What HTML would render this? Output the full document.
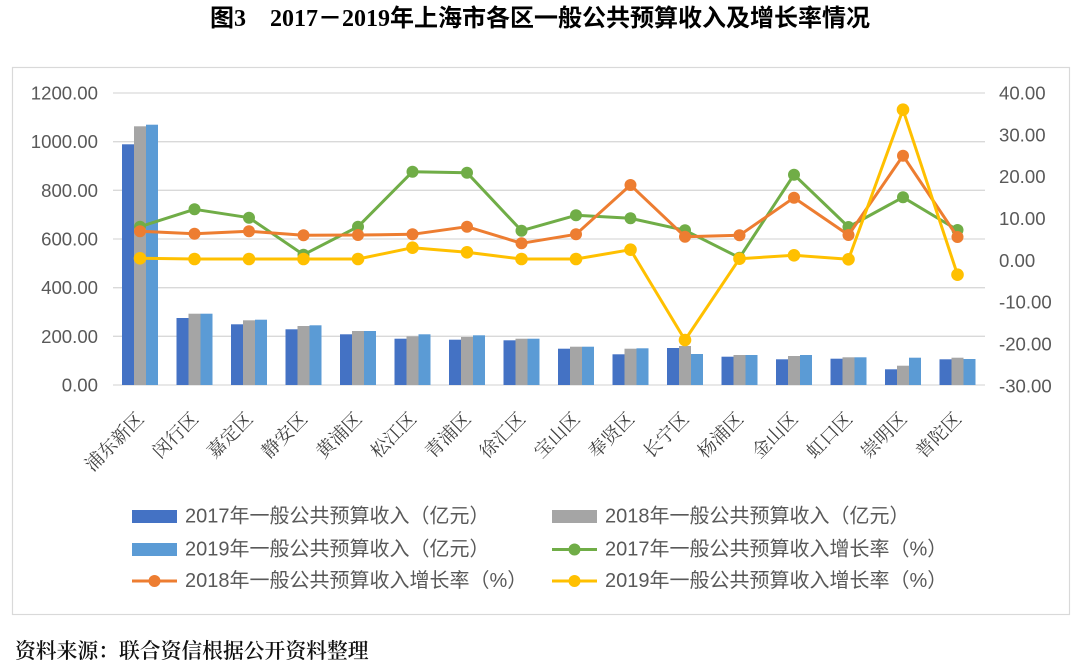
<!DOCTYPE html>
<html>
<head>
<meta charset="utf-8">
<style>
  html,body{margin:0;padding:0;background:#fff;}
  svg{display:block;}
  .ax{font-family:"Liberation Sans","Noto Sans CJK SC",sans-serif;font-size:18.6px;fill:#595959;}
  .lg{font-family:"Liberation Sans","Noto Sans CJK SC",sans-serif;font-size:20px;fill:#595959;}
  .xl{font-family:"Liberation Serif","Noto Serif CJK SC",serif;font-size:18.5px;fill:#404040;}
  .tt{font-family:"Liberation Serif","Noto Sans CJK SC",sans-serif;font-size:24px;font-weight:bold;fill:#000;}
  .ft{font-family:"Liberation Serif","Noto Serif CJK SC",serif;font-size:20.8px;fill:#111;font-weight:600;}
</style>
</head>
<body>
<svg width="1080" height="667" viewBox="0 0 1080 667" xmlns="http://www.w3.org/2000/svg">
  <rect x="0" y="0" width="1080" height="667" fill="#fff"/>
  <text class="tt" x="540" y="26" text-anchor="middle">图3　2017－2019年上海市各区一般公共预算收入及增长率情况</text>

  <rect x="12.5" y="67.5" width="1057" height="547" fill="#fff" stroke="#D9D9D9" stroke-width="1.2"/>

  <!-- gridlines -->
  <g stroke="#D9D9D9" stroke-width="1.3">
    <line x1="113" y1="93" x2="985" y2="93"/>
    <line x1="113" y1="141.7" x2="985" y2="141.7"/>
    <line x1="113" y1="190.3" x2="985" y2="190.3"/>
    <line x1="113" y1="239" x2="985" y2="239"/>
    <line x1="113" y1="287.7" x2="985" y2="287.7"/>
    <line x1="113" y1="336.3" x2="985" y2="336.3"/>
    <line x1="113" y1="385" x2="985" y2="385"/>
  </g>

  <!-- left axis labels -->
  <g class="ax" text-anchor="end" dominant-baseline="central">
    <text x="98" y="93">1200.00</text>
    <text x="98" y="141.7">1000.00</text>
    <text x="98" y="190.3">800.00</text>
    <text x="98" y="239">600.00</text>
    <text x="98" y="287.7">400.00</text>
    <text x="98" y="336.3">200.00</text>
    <text x="98" y="385">0.00</text>
  </g>

  <!-- right axis labels -->
  <g class="ax" text-anchor="start" dominant-baseline="central">
    <text x="999" y="93">40.00</text>
    <text x="999" y="134.8">30.00</text>
    <text x="999" y="176.7">20.00</text>
    <text x="999" y="218.5">10.00</text>
    <text x="999" y="260.3">0.00</text>
    <text x="999" y="302.2">-10.00</text>
    <text x="999" y="344">-20.00</text>
    <text x="999" y="385.8">-30.00</text>
  </g>

  <!-- legend -->
  <g>
    <rect x="132" y="510" width="45" height="13" fill="#4472C4"/>
    <text class="lg" x="185" y="516.5" dominant-baseline="central">2017年一般公共预算收入（亿元）</text>
    <rect x="552" y="510" width="45" height="13" fill="#A5A5A5"/>
    <text class="lg" x="605" y="516.5" dominant-baseline="central">2018年一般公共预算收入（亿元）</text>

    <rect x="132" y="543" width="45" height="13" fill="#5B9BD5"/>
    <text class="lg" x="185" y="549.5" dominant-baseline="central">2019年一般公共预算收入（亿元）</text>
    <line x1="552" y1="549.5" x2="597" y2="549.5" stroke="#70AD47" stroke-width="3"/>
    <circle cx="574.5" cy="549.5" r="6" fill="#70AD47"/>
    <text class="lg" x="605" y="549.5" dominant-baseline="central">2017年一般公共预算收入增长率（%）</text>

    <line x1="132" y1="581" x2="177" y2="581" stroke="#ED7D31" stroke-width="3"/>
    <circle cx="154.5" cy="581" r="6" fill="#ED7D31"/>
    <text class="lg" x="185" y="581" dominant-baseline="central">2018年一般公共预算收入增长率（%）</text>
    <line x1="552" y1="581" x2="597" y2="581" stroke="#FFC000" stroke-width="3"/>
    <circle cx="574.5" cy="581" r="6" fill="#FFC000"/>
    <text class="lg" x="605" y="581" dominant-baseline="central">2019年一般公共预算收入增长率（%）</text>
  </g>

  <text class="ft" x="15" y="658">资料来源：联合资信根据公开资料整理</text>

  <!-- bars -->
  <g>
    <rect x="122" y="144.3" width="12" height="240.7" fill="#4472C4"/>
    <rect x="134" y="126.3" width="12" height="258.7" fill="#A5A5A5"/>
    <rect x="146" y="124.7" width="12" height="260.3" fill="#5B9BD5"/>

    <rect x="176.5" y="318" width="12" height="67" fill="#4472C4"/>
    <rect x="188.5" y="313.7" width="12" height="71.3" fill="#A5A5A5"/>
    <rect x="200.5" y="313.7" width="12" height="71.3" fill="#5B9BD5"/>

    <rect x="231" y="324.3" width="12" height="60.7" fill="#4472C4"/>
    <rect x="243" y="320.3" width="12" height="64.7" fill="#A5A5A5"/>
    <rect x="255" y="319.7" width="12" height="65.3" fill="#5B9BD5"/>

    <rect x="285.5" y="329.3" width="12" height="55.7" fill="#4472C4"/>
    <rect x="297.5" y="326" width="12" height="59" fill="#A5A5A5"/>
    <rect x="309.5" y="325.3" width="12" height="59.7" fill="#5B9BD5"/>

    <rect x="340" y="334.3" width="12" height="50.7" fill="#4472C4"/>
    <rect x="352" y="331" width="12" height="54" fill="#A5A5A5"/>
    <rect x="364" y="331" width="12" height="54" fill="#5B9BD5"/>

    <rect x="394.5" y="338.7" width="12" height="46.3" fill="#4472C4"/>
    <rect x="406.5" y="336.3" width="12" height="48.7" fill="#A5A5A5"/>
    <rect x="418.5" y="334.3" width="12" height="50.7" fill="#5B9BD5"/>

    <rect x="449" y="339.7" width="12" height="45.3" fill="#4472C4"/>
    <rect x="461" y="337" width="12" height="48" fill="#A5A5A5"/>
    <rect x="473" y="335.3" width="12" height="49.7" fill="#5B9BD5"/>

    <rect x="503.5" y="340.3" width="12" height="44.7" fill="#4472C4"/>
    <rect x="515.5" y="338.7" width="12" height="46.3" fill="#A5A5A5"/>
    <rect x="527.5" y="338.7" width="12" height="46.3" fill="#5B9BD5"/>

    <rect x="558" y="348.7" width="12" height="36.3" fill="#4472C4"/>
    <rect x="570" y="346.7" width="12" height="38.3" fill="#A5A5A5"/>
    <rect x="582" y="346.7" width="12" height="38.3" fill="#5B9BD5"/>

    <rect x="612.5" y="354.3" width="12" height="30.7" fill="#4472C4"/>
    <rect x="624.5" y="348.7" width="12" height="36.3" fill="#A5A5A5"/>
    <rect x="636.5" y="348.3" width="12" height="36.7" fill="#5B9BD5"/>

    <rect x="667" y="348" width="12" height="37" fill="#4472C4"/>
    <rect x="679" y="346" width="12" height="39" fill="#A5A5A5"/>
    <rect x="691" y="354" width="12" height="31" fill="#5B9BD5"/>

    <rect x="721.5" y="356.7" width="12" height="28.3" fill="#4472C4"/>
    <rect x="733.5" y="355" width="12" height="30" fill="#A5A5A5"/>
    <rect x="745.5" y="355" width="12" height="30" fill="#5B9BD5"/>

    <rect x="776" y="359.3" width="12" height="25.7" fill="#4472C4"/>
    <rect x="788" y="356" width="12" height="29" fill="#A5A5A5"/>
    <rect x="800" y="355" width="12" height="30" fill="#5B9BD5"/>

    <rect x="830.5" y="358.7" width="12" height="26.3" fill="#4472C4"/>
    <rect x="842.5" y="357.3" width="12" height="27.7" fill="#A5A5A5"/>
    <rect x="854.5" y="357.3" width="12" height="27.7" fill="#5B9BD5"/>

    <rect x="885" y="369.3" width="12" height="15.7" fill="#4472C4"/>
    <rect x="897" y="365.7" width="12" height="19.3" fill="#A5A5A5"/>
    <rect x="909" y="357.7" width="12" height="27.3" fill="#5B9BD5"/>

    <rect x="939.5" y="359.3" width="12" height="25.7" fill="#4472C4"/>
    <rect x="951.5" y="357.7" width="12" height="27.3" fill="#A5A5A5"/>
    <rect x="963.5" y="359" width="12" height="26" fill="#5B9BD5"/>
  </g>

  <!-- lines -->
  <g fill="none" stroke-width="3" stroke-linejoin="round">
    <polyline stroke="#70AD47" points="140,226.7 194.5,209.3 249,217.7 303.5,254.7 358,226.7 412.5,171.7 467,172.7 521.5,230.7 576,215.3 630.5,218.3 685,230.3 739.5,257.7 794,174.7 848.5,227 903,197.3 957.5,230"/>
  </g>
  <g fill="#70AD47">
    <circle cx="140" cy="226.7" r="6"/><circle cx="194.5" cy="209.3" r="6"/><circle cx="249" cy="217.7" r="6"/><circle cx="303.5" cy="254.7" r="6"/>
    <circle cx="358" cy="226.7" r="6"/><circle cx="412.5" cy="171.7" r="6"/><circle cx="467" cy="172.7" r="6"/><circle cx="521.5" cy="230.7" r="6"/>
    <circle cx="576" cy="215.3" r="6"/><circle cx="630.5" cy="218.3" r="6"/><circle cx="685" cy="230.3" r="6"/><circle cx="739.5" cy="257.7" r="6"/>
    <circle cx="794" cy="174.7" r="6"/><circle cx="848.5" cy="227" r="6"/><circle cx="903" cy="197.3" r="6"/><circle cx="957.5" cy="230" r="6"/>
  </g>
  <g fill="none" stroke-width="3" stroke-linejoin="round">
    <polyline stroke="#ED7D31" points="140,231.3 194.5,233.7 249,231.3 303.5,235.3 358,235 412.5,234.3 467,226.7 521.5,243.3 576,234.3 630.5,185 685,236.7 739.5,235.3 794,197.7 848.5,235 903,155.7 957.5,237"/>
  </g>
  <g fill="#ED7D31">
    <circle cx="140" cy="231.3" r="6"/><circle cx="194.5" cy="233.7" r="6"/><circle cx="249" cy="231.3" r="6"/><circle cx="303.5" cy="235.3" r="6"/>
    <circle cx="358" cy="235" r="6"/><circle cx="412.5" cy="234.3" r="6"/><circle cx="467" cy="226.7" r="6"/><circle cx="521.5" cy="243.3" r="6"/>
    <circle cx="576" cy="234.3" r="6"/><circle cx="630.5" cy="185" r="6"/><circle cx="685" cy="236.7" r="6"/><circle cx="739.5" cy="235.3" r="6"/>
    <circle cx="794" cy="197.7" r="6"/><circle cx="848.5" cy="235" r="6"/><circle cx="903" cy="155.7" r="6"/><circle cx="957.5" cy="237" r="6"/>
  </g>
  <g fill="none" stroke-width="3" stroke-linejoin="round">
    <polyline stroke="#FFC000" points="140,258.3 194.5,259 249,259 303.5,259 358,259 412.5,247.7 467,252.3 521.5,259 576,259 630.5,249.7 685,340 739.5,258.7 794,255.3 848.5,259.3 903,109.7 957.5,274.7"/>
  </g>
  <g fill="#FFC000">
    <circle cx="140" cy="258.3" r="6.3"/><circle cx="194.5" cy="259" r="6.3"/><circle cx="249" cy="259" r="6.3"/><circle cx="303.5" cy="259" r="6.3"/>
    <circle cx="358" cy="259" r="6.3"/><circle cx="412.5" cy="247.7" r="6.3"/><circle cx="467" cy="252.3" r="6.3"/><circle cx="521.5" cy="259" r="6.3"/>
    <circle cx="576" cy="259" r="6.3"/><circle cx="630.5" cy="249.7" r="6.3"/><circle cx="685" cy="340" r="6.3"/><circle cx="739.5" cy="258.7" r="6.3"/>
    <circle cx="794" cy="255.3" r="6.3"/><circle cx="848.5" cy="259.3" r="6.3"/><circle cx="903" cy="109.7" r="6.3"/><circle cx="957.5" cy="274.7" r="6.3"/>
  </g>

  <!-- x labels -->
  <g class="xl" text-anchor="end">
    <text transform="translate(145,420) rotate(-45)">浦东新区</text>
    <text transform="translate(199.5,420) rotate(-45)">闵行区</text>
    <text transform="translate(254,420) rotate(-45)">嘉定区</text>
    <text transform="translate(308.5,420) rotate(-45)">静安区</text>
    <text transform="translate(363,420) rotate(-45)">黄浦区</text>
    <text transform="translate(417.5,420) rotate(-45)">松江区</text>
    <text transform="translate(472,420) rotate(-45)">青浦区</text>
    <text transform="translate(526.5,420) rotate(-45)">徐汇区</text>
    <text transform="translate(581,420) rotate(-45)">宝山区</text>
    <text transform="translate(635.5,420) rotate(-45)">奉贤区</text>
    <text transform="translate(690,420) rotate(-45)">长宁区</text>
    <text transform="translate(744.5,420) rotate(-45)">杨浦区</text>
    <text transform="translate(799,420) rotate(-45)">金山区</text>
    <text transform="translate(853.5,420) rotate(-45)">虹口区</text>
    <text transform="translate(908,420) rotate(-45)">崇明区</text>
    <text transform="translate(962.5,420) rotate(-45)">普陀区</text>
  </g>
</svg>
</body>
</html>
